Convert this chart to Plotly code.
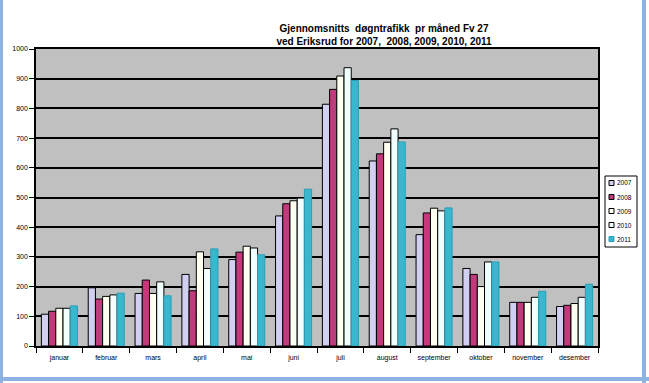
import plotly.graph_objects as go

months = ["januar", "februar", "mars", "april", "mai", "juni", "juli",
          "august", "september", "oktober", "november", "desember"]

y2007 = [107, 196, 177, 241, 291, 438, 814, 623, 375, 261, 147, 133]
y2008 = [117, 158, 222, 186, 316, 479, 864, 647, 448, 241, 147, 137]
y2009 = [127, 167, 177, 317, 336, 489, 909, 686, 464, 200, 147, 143]
y2010 = [127, 172, 216, 261, 330, 498, 937, 731, 455, 283, 164, 164]
y2011 = [135, 178, 169, 327, 307, 528, 894, 687, 465, 283, 184, 208]

series_names = ["2007", "2008", "2009", "2010", "2011"]
series_values = [y2007, y2008, y2009, y2010, y2011]
fill_colors = ["#d2d0f2", "#c23a7c", "#fffff2", "#f2ffff", "#3ab6cf"]
line_colors = ["#000000", "#000000", "#000000", "#000000", "#2a9fb5"]

W, H = 649, 383
L, R, T, B = 36, 51, 49, 37
pw, ph = W - L - R, H - T - B


def px(x):
    return (x - L) / pw


def py(y):
    return (H - B - y) / ph


fig = go.Figure()
for name, vals, col, lc in zip(series_names, series_values, fill_colors, line_colors):
    fig.add_trace(go.Bar(
        x=months, y=vals, name=name,
        marker=dict(color=col, line=dict(color=lc, width=1)),
        showlegend=False,
    ))

font = "Liberation Sans, Arial, sans-serif"

# custom legend (box, swatches, labels)
shapes = [
    dict(type="rect", xref="paper", yref="paper",
         x0=px(605), x1=px(637), y0=py(247), y1=py(176),
         line=dict(color="black", width=1), fillcolor="white", layer="above"),
]
annotations = []
item_y = [183, 197, 211, 225, 239]
for name, col, lc, yy in zip(series_names, fill_colors, line_colors, item_y):
    shapes.append(dict(type="rect", xref="paper", yref="paper",
                       x0=px(609), x1=px(614), y0=py(yy + 2.5), y1=py(yy - 2.5),
                       line=dict(color="black" if lc == "#000000" else lc, width=1),
                       fillcolor=col, layer="above"))
    annotations.append(dict(xref="paper", yref="paper", x=px(614.5), y=py(yy),
                            xanchor="left", yanchor="middle", showarrow=False,
                            text=name, font=dict(family=font, size=6.5, color="black")))

# window frame (blue border)
shapes += [
    dict(type="line", xref="paper", yref="paper",
         x0=px(1.5), x1=px(1.5), y0=py(383), y1=py(0),
         line=dict(color="#8db3e2", width=3)),
    dict(type="line", xref="paper", yref="paper",
         x0=px(644), x1=px(644), y0=py(383), y1=py(0),
         line=dict(color="#8db3e2", width=4)),
    dict(type="line", xref="paper", yref="paper",
         x0=px(0), x1=px(649), y0=py(379), y1=py(379),
         line=dict(color="#8db3e2", width=4)),
]

fig.update_layout(
    width=W, height=H,
    margin=dict(l=L, r=R, t=T, b=B),
    paper_bgcolor="white",
    plot_bgcolor="#c0c0c0",
    barmode="group",
    bargap=0.23,
    bargroupgap=0,
    showlegend=False,
    font=dict(family=font, size=7, color="black"),
    title=dict(
        text="<b>Gjennomsnitts  døgntrafikk  pr måned Fv 27<br>ved Eriksrud for 2007,  2008, 2009, 2010, 2011</b>",
        x=384 / W, xanchor="center", xref="container",
        y=1 - 32 / H, yanchor="top",
        font=dict(family=font, size=10, color="black"),
    ),
    xaxis=dict(
        type="category",
        showgrid=False,
        ticks="outside", tickson="boundaries", ticklen=5, tickcolor="black",
        showline=True, linecolor="black", linewidth=1.5, mirror=True,
        tickfont=dict(family=font, size=7, color="black"),
        ticklabelstandoff=4,
    ),
    yaxis=dict(
        range=[0, 1000], dtick=100,
        showgrid=True, gridcolor="black", gridwidth=1.5,
        ticks="outside", ticklen=5, tickcolor="black",
        showline=True, linecolor="black", linewidth=1.5, mirror=True,
        zeroline=False,
        tickfont=dict(family=font, size=7, color="black"),
    ),
    shapes=shapes,
    annotations=annotations,
)

fig.write_html("out.html",
               config={"displayModeBar": False},
               post_script="document.body.style.margin='0';document.body.style.overflow='hidden';")
